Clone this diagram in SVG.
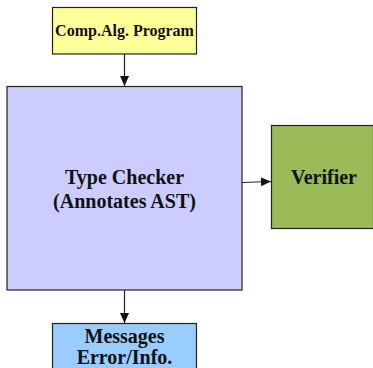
<svg xmlns="http://www.w3.org/2000/svg" width="373" height="368" viewBox="0 0 373 368">
  <style>
    .box { stroke: #222; stroke-width: 1.2; }
    .lbl { font-family: 'Liberation Serif', 'Times New Roman', serif; font-weight: bold; fill: #111; text-anchor: middle; }
    .edge { stroke: #222; stroke-width: 1.2; fill: none; }
  </style>
  <defs>
    <marker id="arrow" viewBox="0 0 10 10" refX="10" refY="5" markerWidth="10" markerHeight="10" markerUnits="userSpaceOnUse" orient="auto">
      <path d="M0,0.5 L10,5 L0,9.5 z" fill="#111"/>
    </marker>
  </defs>
  <rect width="373" height="368" fill="#ffffff"/>

  <g id="connectors">
    <line class="edge" x1="124.5" y1="54" x2="124.5" y2="86" marker-end="url(#arrow)"/>
    <line class="edge" x1="242" y1="182.5" x2="271" y2="181.5" marker-end="url(#arrow)"/>
    <line class="edge" x1="124.5" y1="290" x2="124.5" y2="323" marker-end="url(#arrow)"/>
  </g>

  <g id="program">
    <rect class="box" x="52.5" y="7.5" width="144" height="46.5" fill="#ffff99"/>
    <text class="lbl" x="124.5" y="35.8" font-size="16">Comp.Alg. Program</text>
  </g>

  <g id="type-checker">
    <rect class="box" x="7" y="86.5" width="235" height="203.5" fill="#ccccff"/>
    <text class="lbl" x="124.5" y="184" font-size="20">Type Checker</text>
    <text class="lbl" x="124.5" y="207.8" font-size="20">(Annotates AST)</text>
  </g>

  <g id="verifier">
    <rect class="box" x="271.5" y="125.5" width="102" height="103" fill="#9bbb59"/>
    <text class="lbl" x="324" y="183.5" font-size="20">Verifier</text>
  </g>

  <g id="messages">
    <rect class="box" x="52.5" y="323.5" width="144" height="50" fill="#99ccff"/>
    <text class="lbl" x="124.5" y="343.3" font-size="20">Messages</text>
    <text class="lbl" x="124.5" y="364" font-size="20">Error/Info.</text>
  </g>
</svg>
